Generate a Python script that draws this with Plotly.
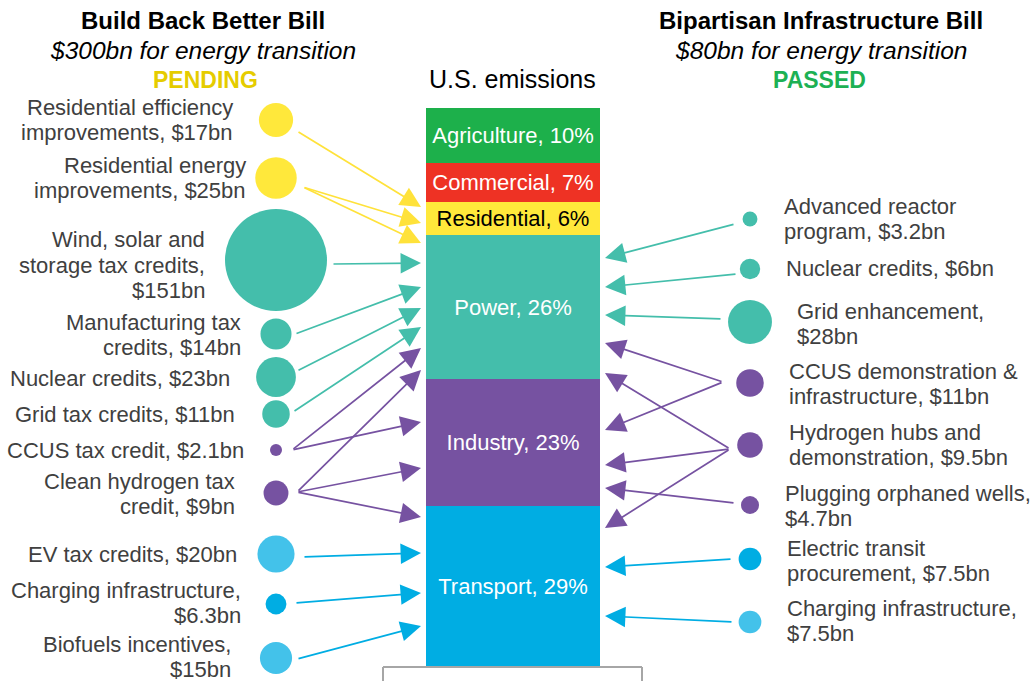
import math
import plotly.graph_objects as go

# ---------------- DATA ----------------
# U.S. emissions share by sector (stacked bottom -> top)
sectors = ["Transport", "Industry", "Power", "Residential", "Commercial", "Agriculture"]
shares = [29, 23, 26, 6, 7, 10]

# Build Back Better Bill items ($bn)
bbb_names = ["Residential efficiency<br>improvements", "Residential energy<br>improvements",
             "Wind, solar and<br>storage tax credits", "Manufacturing tax<br>credits",
             "Nuclear credits", "Grid tax credits", "CCUS tax credit",
             "Clean hydrogen tax<br>credit", "EV tax credits", "Charging infrastructure",
             "Biofuels incentives"]
bbb_values = [17, 25, 151, 14, 23, 11, 2.1, 9, 20, 6.3, 15]
bbb_sector = ["Residential", "Residential", "Power", "Power", "Power", "Power", "Industry",
              "Industry", "Transport", "Transport", "Transport"]

# Bipartisan Infrastructure Bill items ($bn)
bib_names = ["Advanced reactor<br>program", "Nuclear credits", "Grid enhancement",
             "CCUS demonstration &<br>infrastructure", "Hydrogen hubs and<br>demonstration",
             "Plugging orphaned wells", "Electric transit<br>procurement", "Charging infrastructure"]
bib_values = [3.2, 6, 28, 11, 9.5, 4.7, 7.5, 7.5]
bib_sector = ["Power", "Power", "Power", "Industry", "Industry", "Industry", "Transport", "Transport"]

# ---------------- LAYOUT / STYLE ----------------
W, H = 1034, 681
BAR_TOP_PX, BAR_BOT_PX = 108, 666
PX_PER_PCT = (BAR_BOT_PX - BAR_TOP_PX) / sum(shares)


def py2y(py):
    return (BAR_BOT_PX - py) / PX_PER_PCT


sector_colors = {"Transport": "#00ADE3", "Industry": "#7652A1", "Power": "#44BEAB",
                 "Residential": "#FFE83B", "Commercial": "#EE3224", "Agriculture": "#1DB04B"}
sector_text_col = {"Residential": "black"}
arrow_colors = {"Residential": "#FFE23A", "Power": "#44BEAB", "Industry": "#7652A1",
                "Transport": "#00ADE3"}
bbb_bubble_colors = ["#FFE83B", "#FFE83B", "#44BEAB", "#44BEAB", "#44BEAB", "#44BEAB",
                     "#7652A1", "#7652A1", "#43C2EA", "#00ADE3", "#43C2EA"]
bib_bubble_colors = ["#44BEAB", "#44BEAB", "#44BEAB", "#7652A1", "#7652A1", "#7652A1",
                     "#00ADE3", "#43C2EA"]
bbb_value_break = [False, False, True, False, False, False, False, False, False, True, True]
bib_value_break = [False, False, True, False, False, True, False, True]

# positions (pixels)
BAR_X, BAR_W = 513, 174
L_BUB_X, R_BUB_X = 276, 750
bbb_bub_py = [120, 178, 260, 334, 377, 414, 450, 493, 554, 604, 658]
bbb_lab_px = [235, 248, 207, 243, 232, 237, 246, 237, 239, 243, 233]
bbb_lab_py = [120, 178, 265, 335, 378, 414, 450, 494, 554, 603, 657]
bib_bub_py = [219, 269, 322, 383, 445, 505, 559, 622]
bib_lab_px = [782, 784, 795, 787, 787, 783, 785, 785]
bib_lab_py = [219, 268, 324, 384, 445, 506, 561, 621]
# arrows: (tail x, tail y, [head y ...])
bbb_arrows = [(297, 131, [207]), (303, 187, [223, 243]), (332, 264, [263]),
              (295, 334, [287]), (297, 371, [308]), (293, 412, [327]),
              (292, 450, [348, 422]), (297, 492, [370, 468, 517]),
              (303, 557, [553]), (295, 603, [593]), (297, 659, [626])]
L_HEAD_X = 421
bib_arrows = [(735, 224, [258]), (737, 274, [287]), (722, 319, [315]),
              (723, 382, [343, 430]), (730, 449, [373, 465, 528]),
              (735, 503, [488]), (732, 559, [567]), (733, 622, [616])]
R_HEAD_X = 605
BUBBLE_K = 8.3  # px diameter per sqrt($bn)
LINE_H = 25.8   # label line spacing in px

FONT = "Liberation Sans, Arial, sans-serif"
LABEL_COL = "#404040"
LABEL_SIZE = 22

fig = go.Figure()

# Emissions stacked bar
for s, v in zip(sectors, shares):
    fig.add_trace(go.Bar(
        x=[BAR_X], y=[v], width=[BAR_W], name=s,
        marker=dict(color=sector_colors[s], line=dict(width=0)),
        text=[f"{s}, {v}%"], textposition="inside", insidetextanchor="middle",
        constraintext="none", textangle=0,
        textfont=dict(family=FONT, size=22, color=sector_text_col.get(s, "white")),
        hoverinfo="skip", showlegend=False))

# Bubbles
fig.add_trace(go.Scatter(
    x=[L_BUB_X] * len(bbb_values), y=[py2y(p) for p in bbb_bub_py], mode="markers",
    marker=dict(size=[BUBBLE_K * math.sqrt(v) for v in bbb_values], sizemode="diameter",
                color=bbb_bubble_colors, line=dict(width=0), opacity=1),
    hoverinfo="skip", showlegend=False, cliponaxis=False))
fig.add_trace(go.Scatter(
    x=[R_BUB_X] * len(bib_values), y=[py2y(p) for p in bib_bub_py], mode="markers",
    marker=dict(size=[BUBBLE_K * math.sqrt(v) for v in bib_values], sizemode="diameter",
                color=bib_bubble_colors, line=dict(width=0), opacity=1),
    hoverinfo="skip", showlegend=False, cliponaxis=False))

ann = []


def fmt(v):
    return f"${v:g}bn"


def add_label(text, px, py, anchor):
    lines = text.split("<br>")
    n = len(lines)
    for i, ln in enumerate(lines):
        ann.append(dict(x=px, y=py2y(py + (i - (n - 1) / 2) * LINE_H), xref="x", yref="y",
                        xanchor=anchor, yanchor="middle", showarrow=False, text=ln,
                        font=dict(family=FONT, size=LABEL_SIZE, color=LABEL_COL)))


for name, v, brk, px, py in zip(bbb_names, bbb_values, bbb_value_break, bbb_lab_px, bbb_lab_py):
    add_label(name + (",<br>" if brk else ", ") + fmt(v), px, py, "right")
for name, v, brk, px, py in zip(bib_names, bib_values, bib_value_break, bib_lab_px, bib_lab_py):
    add_label(name + (",<br>" if brk else ", ") + fmt(v), px, py, "left")

# arrows
ARROW_KW = dict(xref="x", yref="y", axref="x", ayref="y", text="", showarrow=True,
                arrowhead=2, arrowsize=2.4, arrowwidth=1.7, standoff=0)
for (tx, ty, heads), sec in zip(bbb_arrows, bbb_sector):
    for hy in heads:
        ann.append(dict(x=L_HEAD_X, y=py2y(hy), ax=tx, ay=py2y(ty),
                        arrowcolor=arrow_colors[sec], **ARROW_KW))
for (tx, ty, heads), sec in zip(bib_arrows, bib_sector):
    for hy in heads:
        ann.append(dict(x=R_HEAD_X, y=py2y(hy), ax=tx, ay=py2y(ty),
                        arrowcolor=arrow_colors[sec], **ARROW_KW))

# headings
heads_txt = [
    (203, 20, "<b>Build Back Better Bill</b>", "black", 24),
    (203, 50, "<i>$300bn for energy transition</i>", "black", 24.5),
    (205, 80, "<b>PENDING</b>", "#E5CC00", 23),
    (821, 20, "<b>Bipartisan Infrastructure Bill</b>", "black", 24),
    (821, 50, "<i>$80bn for energy transition</i>", "black", 24.5),
    (819, 80, "<b>PASSED</b>", "#1DB154", 23),
    (512, 79, "U.S. emissions", "black", 25),
]
for x, y, t, c, s in heads_txt:
    ann.append(dict(x=x, y=py2y(y), xref="x", yref="y", xanchor="center", yanchor="middle",
                    showarrow=False, text=t, font=dict(family=FONT, size=s, color=c)))

# bottom bracket
shapes = [
    dict(type="line", x0=383, x1=642, y0=py2y(667), y1=py2y(667), xref="x", yref="y",
         line=dict(color="#A6A6A6", width=2)),
    dict(type="line", x0=383, x1=383, y0=py2y(667), y1=py2y(681), xref="x", yref="y",
         line=dict(color="#A6A6A6", width=2)),
    dict(type="line", x0=642, x1=642, y0=py2y(667), y1=py2y(681), xref="x", yref="y",
         line=dict(color="#A6A6A6", width=2)),
]

fig.update_layout(
    width=W, height=H, margin=dict(l=0, r=0, t=0, b=0),
    paper_bgcolor="white", plot_bgcolor="white",
    barmode="stack", bargap=0,
    xaxis=dict(range=[0, W], visible=False, fixedrange=True),
    yaxis=dict(range=[py2y(H), py2y(0)], visible=False, fixedrange=True),
    annotations=ann, shapes=shapes, showlegend=False,
    font=dict(family=FONT),
)

fig.write_html("out.html", config={"displayModeBar": False},
               post_script="document.body.style.margin='0';document.body.style.overflow='hidden';")
